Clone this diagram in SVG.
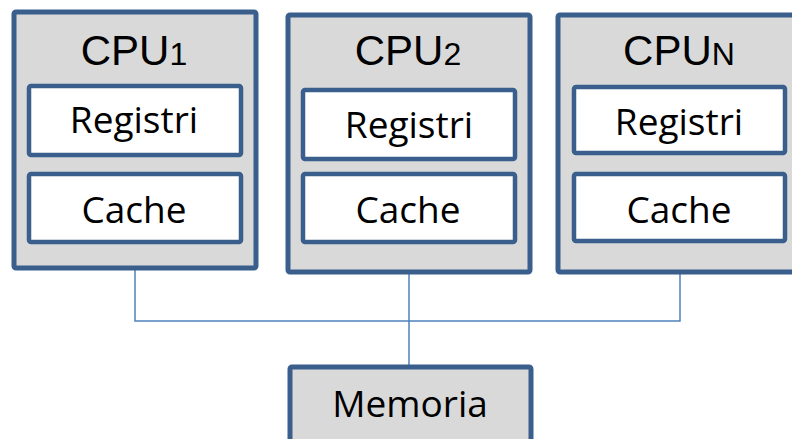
<svg xmlns="http://www.w3.org/2000/svg" width="792" height="439" viewBox="0 0 792 439">
<style>
.outer{fill:#D9D9D9;stroke:#3B5F8D;stroke-width:5}
.inner{fill:#FFFFFF;stroke:#3B5F8D;stroke-width:4.5}
.cpu{font-family:"Liberation Sans",Arial,sans-serif;font-size:42px;fill:#000;text-anchor:middle}
.sub{font-size:32px}
.lbl{font-family:"Open Sans","Noto Sans",sans-serif;font-size:37px;fill:#000;text-anchor:middle}
.conn{fill:none;stroke:#4F81BD;stroke-width:1.5}
</style>
<g id="connectors">
<path class="conn" d="M135 270 V321 H680 V274"/>
<path class="conn" d="M409 274 V366"/>
</g>
<g id="cpu1">
<rect class="outer" x="14" y="12" width="242" height="256" rx="2"/>
<text class="cpu" x="134" y="65">CPU<tspan class="sub">1</tspan></text>
<rect class="inner" x="29" y="86" width="212" height="69" rx="2"/>
<text class="lbl" x="134" y="133">Registri</text>
<rect class="inner" x="29" y="174" width="212" height="68" rx="2"/>
<text class="lbl" x="134" y="223">Cache</text>
</g>
<g id="cpu2">
<rect class="outer" x="288" y="15" width="242" height="257" rx="2"/>
<text class="cpu" x="408" y="65">CPU<tspan class="sub">2</tspan></text>
<rect class="inner" x="303" y="90" width="212" height="69" rx="2"/>
<text class="lbl" x="409" y="138">Registri</text>
<rect class="inner" x="303" y="174" width="212" height="68" rx="2"/>
<text class="lbl" x="408" y="223">Cache</text>
</g>
<g id="cpun">
<rect class="outer" x="558" y="15" width="242" height="257" rx="2"/>
<text class="cpu" x="679" y="65">CPU<tspan class="sub">N</tspan></text>
<rect class="inner" x="574" y="87" width="211" height="66" rx="2"/>
<text class="lbl" x="679" y="135">Registri</text>
<rect class="inner" x="574" y="174" width="211" height="67" rx="2"/>
<text class="lbl" x="679" y="223">Cache</text>
</g>
<g id="memoria">
<rect class="outer" x="290" y="367" width="241" height="80" rx="2"/>
<text class="lbl" x="410" y="417">Memoria</text>
</g>
</svg>
